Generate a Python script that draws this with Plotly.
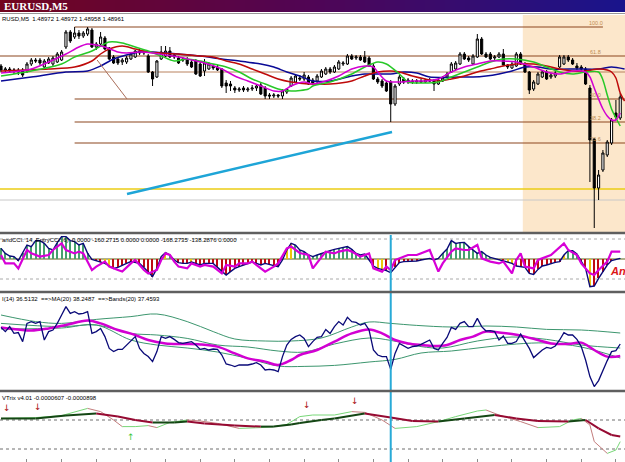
import plotly.graph_objects as go

W, H = 625, 462

# ---------------- main chart: EURUSD M5, prices in pips above 1.4800 ----------------
candle_open = [127,123,124,122,123,123,122,129,133,133, 126,130,129,131,133,146,161,156,160,157,
               159,163,146,149,155,145,136,134,131,131, 134,136,142,140,137,121,116,134,137,142,
               138,135,134,134,131,132,129,122,124,127, 126,124,110,109,105,103,105,103,104,105,
               108,105,98,97,98,97,101,107,111,115, 114,116,113,112,116,119,124,121,124,129,
               129,137,135,136,136,135,127,114,112,110, 111,89,109,114,111,112,111,112,111,113,
               112,109,112,116,121,124,129,139,135,129, 136,154,139,139,135,136,139,128,125,127,
               139,129,121,104,109,116,121,116,117,126, 129,136,133,127,126,124,105,54,5,23,
               38,50,80,75]
candle_close = [123,124,122,123,121,118,129,133,132,130, 132,134,135,139,141,161,152,160,157,160,
                164,146,149,156,144,134,130,130,133,135, 139,142,140,141,121,114,132,141,142,136,
                136,130,133,129,126,119,117,130,129,125, 123,107,107,107,103,104,103,104,105,107,
                99,97,97,98,97,102,104,115,117,114, 118,109,110,117,122,124,121,126,131,130,
                137,134,136,133,131,127,114,111,107,102, 89,107,116,111,113,111,112,111,113,112,
                109,113,115,119,129,130,139,134,133,137, 154,139,136,134,136,139,128,126,129,139,
                129,121,103,111,119,121,114,118,120,136, 136,133,129,125,124,109,53,5,18,40,
                51,73,76,96]
candle_high = [129,126,126,125,125,125,131,135,135,135, 134,136,137,141,143,163,163,166,163,162,
               166,165,151,161,157,146,138,136,135,137, 141,143,144,143,139,122,133,147,147,146,
               140,137,136,136,133,134,131,134,131,129, 128,125,113,112,107,106,107,106,108,109,
               110,107,100,100,99,104,105,117,119,118, 121,118,115,119,124,126,126,128,133,132,
               139,139,138,138,142,137,129,116,114,112, 113,109,118,116,115,114,114,114,114,115,
               114,115,117,121,131,132,141,141,137,139, 159,156,141,141,138,141,144,129,131,141,
               141,131,122,113,121,123,123,120,122,138, 138,138,135,130,128,126,108,55,23,43,
               53,75,93,100]
candle_low = [121,120,120,119,118,116,120,127,130,128, 124,129,127,130,132,144,150,154,154,155,
              157,145,143,148,143,133,129,128,128,129, 133,135,138,138,120,107,115,133,136,135,
              134,129,131,127,125,118,116,117,123,123, 122,105,100,102,100,101,101,101,102,102,
              98,94,94,95,95,94,99,106,110,112, 112,108,108,110,115,118,119,120,123,127,
              128,133,133,132,130,126,113,109,105,101, 71,87,107,109,109,109,109,110,110,111,
              102,108,111,115,120,123,128,133,131,128, 135,138,135,133,132,135,127,124,124,126,
              128,120,99,102,108,115,113,114,115,125, 128,131,128,123,122,108,11,-35,-7,21,
              36,48,73,73]
bars = list(range(len(candle_open)))

ma_fast_x = [0,7,11,15,18,20,22,24,27,29,32,35,38,41,44,47,51,54,57,60,63,65,67,70,72,75,78,81,84,86,87,
             89,92,95,98,101,104,107,110,113,116,119,123,126,129,132,135,136,137,138,139,140,141,142,143]
ma_fast = [120,124,131,139,146,149,148,146,141,140,141,140,138,136,133,130,124,117,112,107,102,102,107,111,
           109,112,117,124,127,126,121,112,111,112,112,114,121,126,129,132,132,131,126,121,119,122,121,116,
           105,94,84,77,73,73,80]
ma_green_x = [0,7,14,17,21,23,25,28,31,34,37,40,43,46,49,52,55,58,61,64,67,71,72,76,81,84,87,89,92,94,97,
              101,104,107,110,113,116,119,123,126,129,132,135,138,139,140,141,142,143]
ma_green = [117,122,129,136,142,147,151,150,146,142,137,132,134,132,129,126,121,114,109,104,102,104,107,111,
            119,126,131,129,119,111,110,111,116,121,126,131,134,134,131,126,121,119,121,121,113,98,84,75,67]
ma_red_x = [0,6,11,17,21,23,25,28,31,34,37,41,46,49,52,55,58,61,64,67,71,72,76,81,84,87,90,92,95,98,101,
            104,107,110,113,116,119,123,126,129,132,135,138,140,141,142,143,144]
ma_red = [122,123,124,126,132,139,144,147,144,141,140,139,137,136,132,129,124,119,114,111,109,109,109,112,
          117,121,122,121,117,114,112,114,117,121,124,127,129,129,127,124,122,122,124,123,121,115,100,92]
ma_blue_x = [0,7,15,20,23,26,29,32,35,38,41,46,51,55,60,63,66,69,72,76,81,84,90,93,96,99,106,109,112,115,
             118,121,124,127,133,138,141,144]
ma_blue = [112,116,121,122,127,134,138,141,141,140,139,137,134,132,129,126,121,117,112,112,117,119,119,121,
           120,116,116,116,117,119,122,126,126,124,124,124,126,124]

fib_names = ["100.0", "61.8", "50.0", "38.2", "23.6"]
fib_levels = [166, 137, 94, 71, 50]
fib_start = [17, -1, 17, 17, 17]
fib_end = [139, 145, 145, 145, 145]
extra_level = 121
yellow_level = 4
gray_level = -7
trend_x = [29.1, 90.3]
trend_y = [-1, 61]
diag_x = [22.2, 29.1]
diag_y = [133, 94]
zone_start = 120.5
marker_bar = 90

# ---------------- CCI panel ----------------
cci_main = [53,28,15,12,-8,28,70,62,92,92, 78,53,45,82,112,112,92,87,70,78,
            28,-2,-8,-13,-22,-35,-47,-42,-30,-22, -13,-17,-22,-42,-63,-88,-47,12,32,20,
            -5,-18,-22,-22,-15,-22,-30,-22,-22,-22, -42,-63,-80,-63,-47,-38,-30,-22,-15,-22,
            -30,-22,-27,-30,-38,-5,45,78,70,45, 37,20,12,20,28,37,42,48,53,58,
            62,48,28,20,25,-5,-35,-47,-52,-58, -68,-42,-18,-13,-13,-12,-10,-5,-2,3,
            -5,3,28,50,92,78,82,83,62,45, 28,37,20,8,2,-5,-12,-15,-22,-35,
            -38,-42,-72,-77,-52,-35,-30,-22,-17,-13, 20,42,42,25,-13,-47,-138,-135,-97,-63,
            -30,-8,-2,3]
cci_entry_x = [0,1,3,4,6,7,9,11,12,14,15,17,18,19,21,22,24,25,27,28,30,31,33,34,36,37,38,39,40,41,43,44,
               46,47,49,51,52,54,55,57,58,60,61,63,64,66,67,69,71,72,74,75,77,78,80,81,83,85,86,88,89,
               90,91,93,94,96,97,99,101,102,104,105,107,108,110,111,113,115,116,118,119,120,121,123,124,
               126,127,130,131,133,134,136,137,138,140,141,143]
cci_entry = [20,-22,-22,-47,45,28,12,20,45,78,45,28,37,28,-55,-38,-13,-38,-55,-63,-22,-5,-55,-72,-55,-5,
             28,20,-13,-38,-47,-22,-38,-30,-38,-72,-30,-38,-22,-22,-13,-47,-63,-38,-22,53,62,30,20,-47,
             12,37,28,37,45,37,12,28,-47,-63,-38,-55,-5,12,20,20,28,45,-63,-22,37,53,45,45,70,3,-13,-22,
             -13,-72,-5,28,-38,-47,-5,12,20,78,45,20,-22,-72,-80,-55,-13,37,37]
cci_neutral_bars = [24, 25, 37, 38, 44, 66, 67, 87, 88, 98, 117, 118, 130, 136]

# ---------------- RSI panel ----------------
rsi = [50.3,48.2,50.7,47.3,47.7,43.2,52.3,53.2,52.3,53.2, 44,48.2,49,52.3,56.5,60.7,57.3,58.2,57,57.3,
       58.2,47.3,48.2,49.8,45.7,39.8,38.2,39.3,39.3,41.5, 44,45.7,39.8,37.3,35.7,33.2,38.2,45.7,44.8,45.7,
       44.3,42.7,42.3,42.7,43.2,41.5,39.3,39.8,39,39.5, 39.3,36.5,32,31.5,30.7,31.5,31.5,31.5,32,32.7,
       31.5,29,29.3,29,28.2,35.7,41.5,44.3,45.7,46.5, 44.8,40.7,43.2,45.3,45.7,49.3,47.3,50.7,53.2,51.5,
       55.3,53.2,52.8,51.5,52.3,49,39,36.5,35.7,35.7, 29.3,37.3,42.3,41,39.8,40.7,41,41.8,42.7,44,
       39.8,39,42.3,45.3,50.3,49.3,52.3,53.2,50.7,50.7, 54.8,50.7,48.5,48.7,48.2,44,46,42.3,42.3,43.2,
       47,43.2,39.8,35.2,37.3,39,40.3,39.8,41,44, 47.7,46.5,46.5,44.3,40.7,34,25.7,20.7,23.7,29,
       33.7,38.2,38.7,42]
rsi_ma_x = [0,4,7,11,15,20,23,27,31,34,38,42,46,50,54,57,61,64,67,69,73,77,81,85,88,91,94,97,100,103,106,
            109,112,115,118,121,124,127,131,134,137,140,143]
rsi_ma = [50.3,49.3,48.7,49.8,51.5,53.7,52.3,49,46.5,44,42.3,42,41.8,40.7,37.3,34.8,33.2,31.5,34,36.5,39,
          43.2,47.3,49.3,47.3,44,42.3,41.5,41,41.5,44,45.7,48.2,47.7,47,45.7,44,42.3,42,42.7,39,35.7,36]
band_up_x = [0,8,14,22,30,36,43,49,54,61,67,74,81,85,90,96,104,112,119,126,134,143]
band_up = [56.5,53.2,52.3,54.3,55.7,57,53.2,48.2,44.5,43.5,43.5,45,50.5,53,52.3,51.3,50.5,51,50.5,49.3,49,47.5]
band_mid_x = [0,14,22,30,36,43,50,57,64,70,77,85,90,97,102,110,118,126,134,143]
band_mid = [52.3,50.7,51.5,47.3,46.5,44.8,41.5,40.5,38.5,38,42,45,43.8,40.7,40,43.5,45.5,44.3,41.5,40]
band_lo_x = [0,14,22,30,36,43,50,57,64,70,77,85,91,97,104,112,119,126,134,143]
band_lo = [49.5,50,51.5,44,41.5,40,38,34.8,31,30.8,31.3,33,34.3,37.5,38.5,40.5,42,42.5,40.5,35]

# ---------------- Trix panel (units of 1e-5) ----------------
trix_x = [0,8,15,22,27,31,35,40,43,47,54,60,63,67,69,74,77,84,90,95,101,107,114,119,124,131,135,138,141,143]
trix = [0.8,0.8,2.2,3.3,1.7,0,-1.3,-1.2,-0.8,-1.7,-2.8,-3.3,-3.3,-2.2,-1.5,0,0.8,3.3,1.2,-0.5,-0.8,0.8,2.5,
        0.8,-0.5,-0.8,0,-4.2,-7.5,-8.3]
trix_sig_x = [0,8,14,20,23,26,28,31,34,36,39,43,46,50,55,60,63,66,69,72,77,81,84,88,91,96,101,105,110,112,115,
              120,124,129,132,134,136,137,140,142,143]
trix_sig = [0.8,1.2,2.2,5.8,4.2,0,-3.3,-3.3,-2.8,-3.8,-1.2,0,-0.5,-1.7,-4.2,-3.8,-3.3,-2.2,1.7,2.5,2.5,4.2,
            3.8,0,-4.2,-3.3,-0.8,1.7,4.5,5,2.5,-0.8,-3.8,-3.3,0,0.8,-2.5,-10.8,-16.7,-15,-10.8]
sell_bars = [1.4, 8.5, 70.7, 81.8]
sell_vals = [6, 6.5, 7.5, 9.5]
buy_bars = [30]
buy_vals = [-8.5]
trix_levels = [0, -14.5]
time_ticks = list(range(6, 144, 8))

# ---------------- figure ----------------
def py(px):
    return 1 - px / H

fig = go.Figure()

# main price panel
fig.add_trace(go.Candlestick(
    x=bars, open=candle_open, high=candle_high, low=candle_low, close=candle_close,
    increasing=dict(line=dict(color="black", width=1), fillcolor="white"),
    decreasing=dict(line=dict(color="black", width=1), fillcolor="black"),
    whiskerwidth=0, xaxis="x", yaxis="y", showlegend=False, hoverinfo="skip"))

for xs, ys, col in [(ma_blue_x, ma_blue, "rgb(10,10,150)"), (ma_red_x, ma_red, "rgb(190,10,10)"),
                    (ma_green_x, ma_green, "rgb(40,200,40)"), (ma_fast_x, ma_fast, "rgb(210,0,210)")]:
    fig.add_trace(go.Scatter(x=xs, y=ys, mode="lines", line=dict(color=col, width=1.5, shape="spline", smoothing=0.8),
                             xaxis="x", yaxis="y", showlegend=False, hoverinfo="skip"))

fig.add_trace(go.Scatter(x=trend_x, y=trend_y, mode="lines", line=dict(color="rgb(30,165,215)", width=2.5),
                         xaxis="x", yaxis="y", showlegend=False, hoverinfo="skip"))
fig.add_trace(go.Scatter(x=diag_x, y=diag_y, mode="lines", line=dict(color="rgb(170,110,90)", width=1),
                         xaxis="x", yaxis="y", showlegend=False, hoverinfo="skip"))

shapes = []
shapes.append(dict(type="rect", xref="x", yref="y domain", x0=zone_start, x1=150, y0=0, y1=1,
                   fillcolor="rgb(252,231,203)", line=dict(width=0), layer="below"))
for lvl, x0, x1 in zip(fib_levels, fib_start, fib_end):
    shapes.append(dict(type="line", xref="x", yref="y", x0=x0, x1=x1, y0=lvl, y1=lvl,
                       line=dict(color="rgb(140,70,30)", width=1.2), layer="below"))
shapes.append(dict(type="line", xref="x", yref="y", x0=-1, x1=150, y0=extra_level, y1=extra_level,
                   line=dict(color="rgb(185,130,95)", width=1), layer="below"))
shapes.append(dict(type="line", xref="x", yref="y", x0=-1, x1=150, y0=yellow_level, y1=yellow_level,
                   line=dict(color="rgb(235,205,20)", width=1.5), layer="below"))
shapes.append(dict(type="line", xref="x", yref="y", x0=-1, x1=150, y0=gray_level, y1=gray_level,
                   line=dict(color="rgb(200,200,200)", width=1), layer="below"))

annotations = []
for name, lvl in zip(fib_names, fib_levels):
    annotations.append(dict(x=137.3, y=lvl, xref="x", yref="y", text=name, showarrow=False,
                            yanchor="bottom", xanchor="center", yshift=-1,
                            font=dict(family="Liberation Sans", size=5.5, color="rgb(190,140,80)")))

# CCI panel
pos_col, neg_col, neu_col = "rgb(70,160,110)", "rgb(190,10,20)", "rgb(235,200,10)"
cci_cols = [neu_col if i in cci_neutral_bars else (pos_col if v >= 0 else neg_col) for i, v in enumerate(cci_main)]
fig.add_trace(go.Bar(x=bars, y=cci_main, width=0.28, marker=dict(color=cci_cols, line=dict(width=0)),
                     xaxis="x", yaxis="y2", showlegend=False, hoverinfo="skip"))
fig.add_trace(go.Scatter(x=bars, y=cci_main, mode="lines", line=dict(color="rgb(10,10,120)", width=1.4),
                         xaxis="x", yaxis="y2", showlegend=False, hoverinfo="skip"))
fig.add_trace(go.Scatter(x=cci_entry_x, y=cci_entry, mode="lines", line=dict(color="rgb(215,0,215)", width=2.2),
                         xaxis="x", yaxis="y2", showlegend=False, hoverinfo="skip"))
shapes.append(dict(type="line", xref="paper", yref="y2", x0=0, x1=1, y0=0, y1=0,
                   line=dict(color="rgb(150,150,100)", width=1.5), layer="below"))
for lvl in [100, -100]:
    shapes.append(dict(type="line", xref="paper", yref="y2", x0=0, x1=1, y0=lvl, y1=lvl,
                       line=dict(color="rgb(170,170,170)", width=1, dash="dot"), layer="below"))

# RSI panel
for xs, ys in [(band_up_x, band_up), (band_mid_x, band_mid), (band_lo_x, band_lo)]:
    fig.add_trace(go.Scatter(x=xs, y=ys, mode="lines", line=dict(color="rgb(60,150,110)", width=1, shape="spline"),
                             xaxis="x", yaxis="y3", showlegend=False, hoverinfo="skip"))
fig.add_trace(go.Scatter(x=rsi_ma_x, y=rsi_ma, mode="lines", line=dict(color="rgb(210,0,210)", width=2.5, shape="spline"),
                         xaxis="x", yaxis="y3", showlegend=False, hoverinfo="skip"))
fig.add_trace(go.Scatter(x=bars, y=rsi, mode="lines", line=dict(color="rgb(10,10,120)", width=1.3),
                         xaxis="x", yaxis="y3", showlegend=False, hoverinfo="skip"))

# Trix panel
def split_by_slope(xs, ys):
    ux, uy, dx, dy = [], [], [], []
    for k in range(len(xs) - 1):
        tx, ty = (ux, uy) if ys[k + 1] >= ys[k] else (dx, dy)
        tx += [xs[k], xs[k + 1], None]
        ty += [ys[k], ys[k + 1], None]
    return ux, uy, dx, dy

ux, uy, dx, dy = split_by_slope(trix_sig_x, trix_sig)
fig.add_trace(go.Scatter(x=ux, y=uy, mode="lines", line=dict(color="rgb(120,215,120)", width=1),
                         xaxis="x", yaxis="y4", showlegend=False, hoverinfo="skip"))
fig.add_trace(go.Scatter(x=dx, y=dy, mode="lines", line=dict(color="rgb(195,125,125)", width=1),
                         xaxis="x", yaxis="y4", showlegend=False, hoverinfo="skip"))
ux, uy, dx, dy = split_by_slope(trix_x, trix)
fig.add_trace(go.Scatter(x=ux, y=uy, mode="lines", line=dict(color="rgb(20,70,20)", width=2),
                         xaxis="x", yaxis="y4", showlegend=False, hoverinfo="skip"))
fig.add_trace(go.Scatter(x=dx, y=dy, mode="lines", line=dict(color="rgb(150,10,50)", width=2),
                         xaxis="x", yaxis="y4", showlegend=False, hoverinfo="skip"))
for lvl in trix_levels:
    shapes.append(dict(type="line", xref="paper", yref="y4", x0=0, x1=1, y0=lvl, y1=lvl,
                       line=dict(color="rgb(110,110,110)", width=1, dash="dot"), layer="below"))
for bx, bv in zip(sell_bars, sell_vals):
    annotations.append(dict(x=bx, y=bv, xref="x", yref="y4", text="↓", showarrow=False,
                            font=dict(family="DejaVu Sans", size=9, color="rgb(170,20,20)")))
for bx, bv in zip(buy_bars, buy_vals):
    annotations.append(dict(x=bx, y=bv, xref="x", yref="y4", text="↑", showarrow=False,
                            font=dict(family="DejaVu Sans", size=9, color="rgb(60,200,60)")))

# vertical marker line through the indicator panels
shapes.append(dict(type="line", xref="x", yref="paper", x0=marker_bar, x1=marker_bar, y0=0, y1=py(235),
                   line=dict(color="rgb(40,170,215)", width=2)))

# panel separators
for ypx, wdt in [(13.5, 1), (233, 2.5), (292, 2.5), (391, 2.5)]:
    shapes.append(dict(type="line", xref="paper", yref="paper", x0=0, x1=1, y0=py(ypx), y1=py(ypx),
                       line=dict(color="rgb(95,95,95)" if wdt > 1 else "rgb(150,150,150)", width=wdt)))

# title bar gradient
def lerp(c0, c1, t):
    return tuple(int(round(a + (b - a) * t)) for a, b in zip(c0, c1))
left_c, mid_c, right_c = (115, 5, 30), (80, 5, 85), (25, 20, 140)
n = 125
for k in range(n):
    t = k / (n - 1)
    c = lerp(left_c, mid_c, t * 2) if t < 0.5 else lerp(mid_c, right_c, (t - 0.5) * 2)
    shapes.append(dict(type="rect", xref="paper", yref="paper", x0=k / n, x1=(k + 1) / n + 0.002,
                       y0=py(12), y1=1, fillcolor="rgb(%d,%d,%d)" % c, line=dict(width=0)))

annotations.append(dict(x=2 / W, y=py(6), xref="paper", yref="paper", text="<b>EURUSD,M5</b>", showarrow=False,
                        xanchor="left", yanchor="middle", font=dict(family="Liberation Serif", size=11, color="white")))
label_font = dict(family="Liberation Sans", size=6, color="black")
for txt, ypx in [("RUSD,M5  1.48972 1.48972 1.48958 1.48961", 19),
                 ("andCCI: 14, EntryCCI: 6)  0.0000 -160.2715 0.0000 0.0000 -168.2735 -138.2876 0.0000", 240),
                 ("I(14) 36.5132  ==&gt;MA(20) 38.2487  ==&gt;Bands(20) 37.4593", 299),
                 ("VTrix v4.01 -0.0000607 -0.0000898", 398)]:
    annotations.append(dict(x=0, y=py(ypx), xref="paper", yref="paper", text=txt, showarrow=False,
                            xanchor="left", yanchor="middle", font=label_font))
annotations.append(dict(x=608 / W, y=py(271), xref="paper", yref="paper", text="<b><i>An</i></b>", showarrow=False,
                        xanchor="left", yanchor="middle", font=dict(family="Liberation Sans", size=11, color="rgb(220,20,20)")))

ax_common = dict(showgrid=False, zeroline=False, showticklabels=False, fixedrange=True, anchor="x")
fig.update_layout(
    width=W, height=H, margin=dict(l=0, r=0, t=0, b=0),
    paper_bgcolor="white", plot_bgcolor="white", showlegend=False, bargap=0,
    xaxis=dict(domain=[0, 1], range=[-0.23, 144.1], anchor="y4", showgrid=False, zeroline=False,
               showticklabels=False, rangeslider=dict(visible=False), ticks="inside", ticklen=3,
               tickcolor="rgb(140,140,140)", tickvals=time_ticks, fixedrange=True),
    yaxis=dict(domain=[py(232), py(15)], range=[-39, 178], **ax_common),
    yaxis2=dict(domain=[py(291), py(236)], range=[-160, 115], **ax_common),
    yaxis3=dict(domain=[py(389), py(294)], range=[19.5, 67], **ax_common),
    yaxis4=dict(domain=[0, py(393)], range=[-21, 13.5], **ax_common),
    shapes=shapes, annotations=annotations,
)

fig.write_html("out.html")
